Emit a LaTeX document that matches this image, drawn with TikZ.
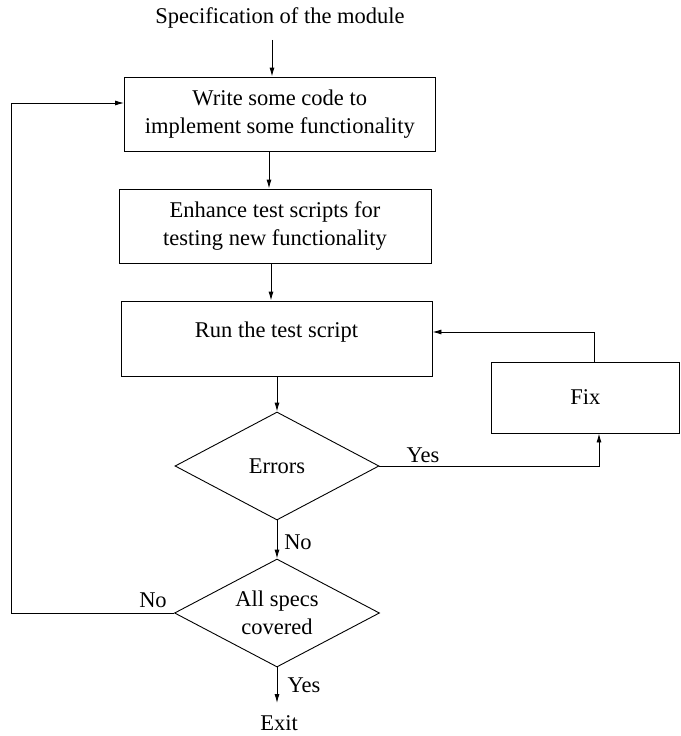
\documentclass[tikz,border=0pt]{standalone}
\usepackage{fontspec}
\setmainfont{Liberation Serif}
\usetikzlibrary{arrows.meta,shapes.geometric}
\begin{document}
\begin{tikzpicture}[x=1pt,y=-1pt,
  font=\fontsize{22.5}{28}\selectfont,
  line width=0.9pt,
  box/.style={draw, rectangle, inner sep=0pt, align=center},
  dia/.style={draw, diamond, inner sep=0pt, aspect=1.9, align=center},
  arr/.style={-{Latex[length=9pt,width=5pt]}},
  lbl/.style={inner sep=0pt}]
\useasboundingbox (0,0) rectangle (680,736);
% nodes
\node[lbl] (spec) at (280,18) {Specification of the module};
\node[box, minimum width=310.5, minimum height=74] (b1) at (279.75,114)
  {Write some code to\\ implement some functionality};
\node[box, minimum width=312, minimum height=74] (b2) at (275,226)
  {Enhance test scripts for\\ testing new functionality};
\node[box, minimum width=311, minimum height=75] (b3) at (276.5,338.5) {};
\node[lbl] (b3t) at ([yshift=6pt]b3.center) {Run the test script};
\node[box, minimum width=188.5, minimum height=71] (fix) at (585.25,397.5) {Fix};
\node[dia, minimum width=204, minimum height=108] (err) at (277,466) {Errors};
\node[dia, minimum width=205, minimum height=108] (all) at (277,613) {All specs\\ covered};
\node[lbl] (exit) at (279,723) {Exit};
% labels
\node[lbl] (yes1) at (423,455) {Yes};
\node[lbl] (no1) at (298,542) {No};
\node[lbl] (no2) at (153,600) {No};
\node[lbl] (yes2) at (304,685) {Yes};
% helper coordinates
\coordinate (c0) at (272,0);
\coordinate (c1) at (269,0);
\coordinate (c2) at (271,0);
\coordinate (cL) at (11,0);
\coordinate (r1) at (0,103);
\coordinate (cF) at (594,0);
\coordinate (r3) at (0,332);
\coordinate (cY) at (599,0);
% connectors
\draw[arr] ([yshift=-11pt]spec.south -| c0) -- (b1.north -| c0);
\draw[arr] (b1.south -| c1) -- (b2.north -| c1);
\draw[arr] (b2.south -| c2) -- (b3.north -| c2);
\draw[arr] (b3.south -| err.north) -- (err.north);
\draw[arr] (err.south) -- (all.north);
\draw[arr] (err.east) -| (fix.south -| cY);
\draw[arr] (fix.north -| cF) |- (b3.east |- r3);
\draw[arr] (all.west) -- (cL |- all.west) -- (cL |- r1) -- (b1.west |- r1);
\draw[arr] (all.south) -- ([yshift=12pt]exit.north -| all.south);
\end{tikzpicture}
\end{document}
